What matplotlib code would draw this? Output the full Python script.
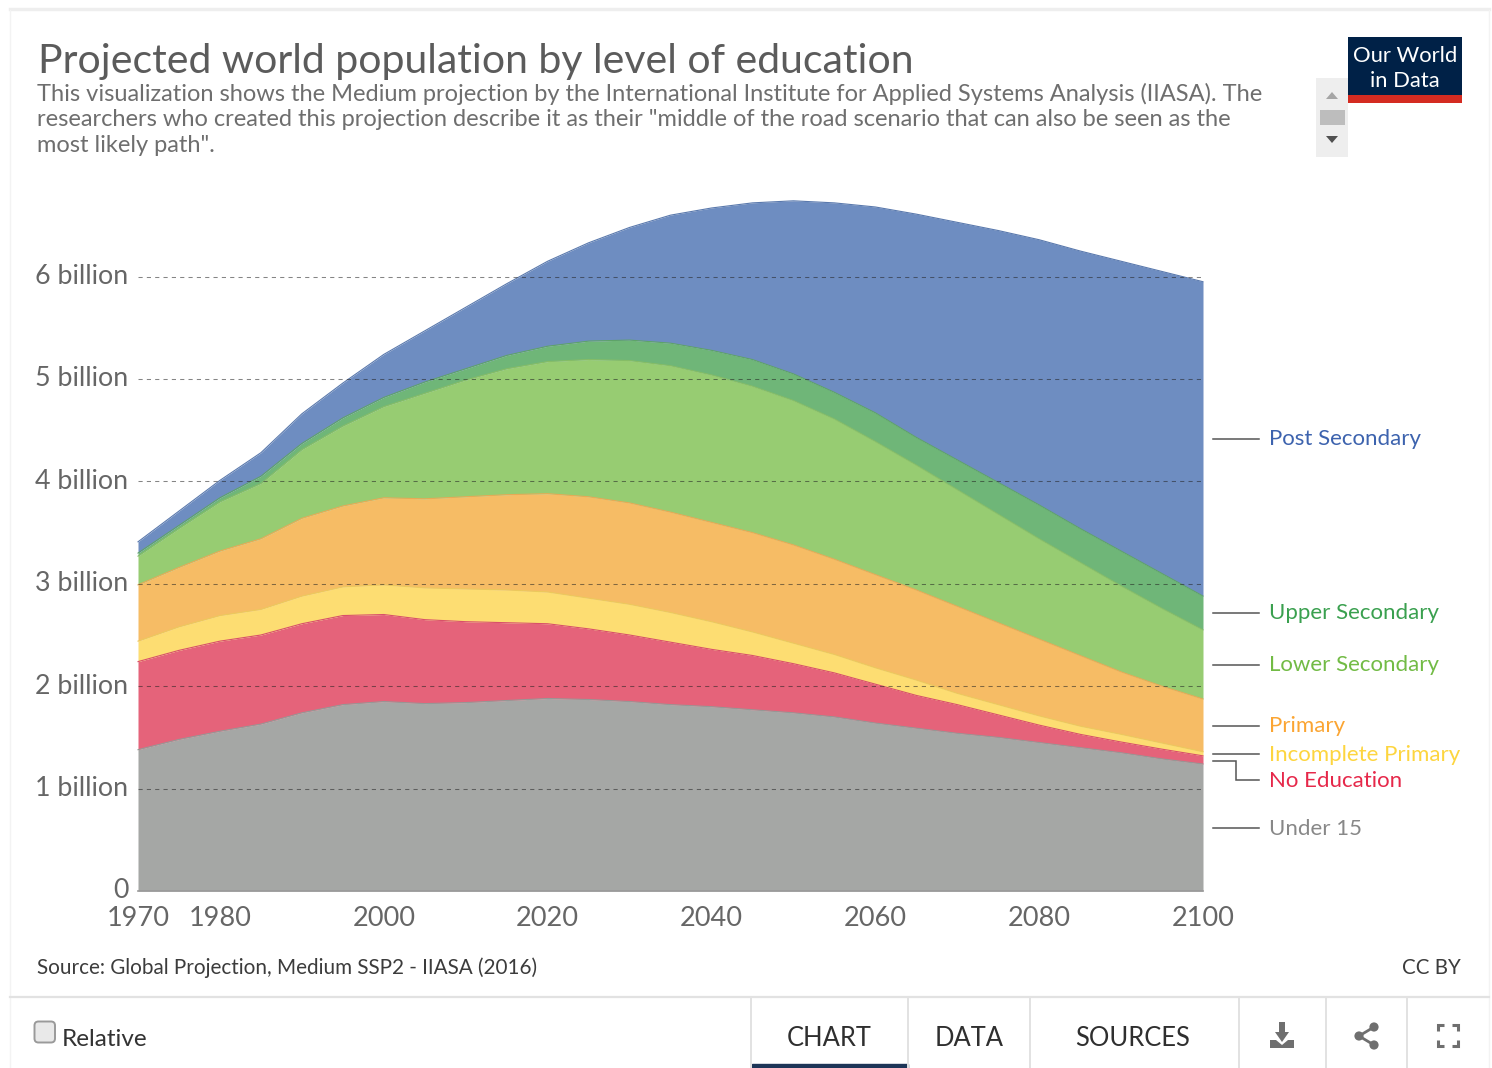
import matplotlib
matplotlib.use('Agg')
import matplotlib.pyplot as plt
from matplotlib.patches import Rectangle, Polygon, Circle, FancyBboxPatch

plt.rcParams['font.family'] = ['Lato', 'Open Sans', 'DejaVu Sans']

W, H = 1492, 1068

# ── Data: top edge of each stacked band, in billions ─────────────────────
YEARS = list(range(1970, 2101, 5))
UNDER_15 = [1.38, 1.48, 1.56, 1.63, 1.74, 1.82, 1.85, 1.83, 1.84, 1.86, 1.88, 1.87, 1.85,
            1.82, 1.80, 1.77, 1.74, 1.70, 1.64, 1.59, 1.54, 1.50, 1.45, 1.40, 1.35, 1.29, 1.24]
NO_EDUCATION = [2.24, 2.35, 2.44, 2.50, 2.61, 2.69, 2.70, 2.65, 2.63, 2.62, 2.61, 2.56, 2.50,
                2.43, 2.36, 2.30, 2.22, 2.13, 2.02, 1.91, 1.82, 1.72, 1.62, 1.53, 1.455, 1.385, 1.32]
INCOMPLETE_PRIMARY = [2.44, 2.58, 2.69, 2.75, 2.88, 2.97, 2.99, 2.96, 2.95, 2.94, 2.92, 2.86, 2.80,
                      2.72, 2.63, 2.53, 2.42, 2.31, 2.18, 2.06, 1.93, 1.82, 1.71, 1.61, 1.53, 1.445, 1.36]
PRIMARY = [2.99, 3.16, 3.32, 3.44, 3.64, 3.76, 3.84, 3.83, 3.85, 3.87, 3.88, 3.85, 3.79,
           3.70, 3.60, 3.50, 3.38, 3.24, 3.09, 2.94, 2.78, 2.62, 2.46, 2.30, 2.14, 2.00, 1.875]
LOWER_SECONDARY = [3.27, 3.54, 3.80, 3.98, 4.31, 4.54, 4.73, 4.86, 4.99, 5.10, 5.17, 5.19, 5.18,
                   5.13, 5.04, 4.93, 4.79, 4.61, 4.39, 4.16, 3.92, 3.68, 3.44, 3.21, 2.98, 2.76, 2.55]
UPPER_SECONDARY = [3.30, 3.57, 3.84, 4.05, 4.37, 4.62, 4.82, 4.97, 5.10, 5.23, 5.32, 5.37, 5.38,
                   5.35, 5.28, 5.19, 5.05, 4.87, 4.67, 4.43, 4.21, 3.99, 3.77, 3.54, 3.32, 3.10, 2.88]
POST_SECONDARY = [3.41, 3.71, 4.01, 4.28, 4.66, 4.96, 5.24, 5.47, 5.70, 5.93, 6.15, 6.33, 6.48,
                  6.60, 6.67, 6.72, 6.74, 6.72, 6.68, 6.61, 6.53, 6.45, 6.36, 6.25, 6.15, 6.05, 5.95]

BAND_TOPS = [UNDER_15, NO_EDUCATION, INCOMPLETE_PRIMARY, PRIMARY,
             LOWER_SECONDARY, UPPER_SECONDARY, POST_SECONDARY]
BAND_FILLS = ['#a5a7a5', '#e5637a', '#fddd72', '#f6bc65', '#97cc72', '#6fb678', '#6e8dc1']
BAND_EDGES = ['#969896', '#d8506a', '#ecc95c', '#e8aa55', '#86bd66', '#5ea368', '#5a79ad']

X_TICKS = [1970, 1980, 2000, 2020, 2040, 2060, 2080, 2100]
Y_TICKS = [0, 1, 2, 3, 4, 5, 6]
Y_TICK_LABELS = ['0', '1 billion', '2 billion', '3 billion', '4 billion', '5 billion', '6 billion']

# label, text y, connector y, colour
SERIES_LABELS = [
    ('Post Secondary', 439, 439, '#3d63ae'),
    ('Upper Secondary', 613, 613, '#3aa04f'),
    ('Lower Secondary', 665, 665, '#72bb45'),
    ('Primary', 726, 725.5, '#fba533'),
    ('Incomplete Primary', 755, 754, '#fdd53f'),
    ('No Education', 781, 780, '#e6284a'),
    ('Under 15', 829, 828, '#888888'),
]

fig = plt.figure(figsize=(W / 100, H / 100), dpi=100, facecolor='white')

# Pixel-space layer for the card, header and footer
bg = fig.add_axes([0, 0, 1, 1], zorder=0)
bg.set_xlim(0, W); bg.set_ylim(H, 0); bg.axis('off')

GREY = '#e2e2e2'
bg.plot([10, 1489], [9, 9], color='#eeeeee', lw=2.5)
bg.plot([10, 10], [10, H], color='#f3f3f3', lw=1)
bg.plot([1489, 1489], [10, H], color='#f3f3f3', lw=1)
bg.plot([10, 1489], [997, 997], color=GREY, lw=1.6)
for x in [751, 908, 1030, 1239, 1326, 1407]:
    bg.plot([x, x], [998, H], color=GREY, lw=1.4)
bg.add_patch(Rectangle((752, 1064), 156, 4, color='#1d3557'))

TITLE_GREY = '#5b5b5b'
bg.text(38, 61, 'Projected world population by level of education',
        fontsize=29.55, color=TITLE_GREY, va='center', ha='left')
for y, line in [(94, 'This visualization shows the Medium projection by the International Institute for Applied Systems Analysis (IIASA). The'),
                (120, 'researchers who created this projection describe it as their "middle of the road scenario that can also be seen as the'),
                (146, 'most likely path".')]:
    bg.text(37, y, line, fontsize=17, color='#6e6e6e', va='center', ha='left')

# Scroll widget beside the subtitle
bg.add_patch(Rectangle((1316, 78), 32, 79, color='#eeeeee', lw=0))
bg.add_patch(Rectangle((1320, 110), 25, 15, color='#bdbdbd', lw=0))
bg.add_patch(Polygon([(1326, 99), (1338, 99), (1332, 92)], color='#a5a5a5', lw=0))
bg.add_patch(Polygon([(1326, 136), (1338, 136), (1332, 143)], color='#505050', lw=0))

# Logo
bg.add_patch(Rectangle((1348, 37), 114, 58, color='#002147', lw=0))
bg.add_patch(Rectangle((1348, 95), 114, 8, color='#d42b21', lw=0))
bg.text(1405, 56, 'Our World', fontsize=15.8, color='white', ha='center', va='center')
bg.text(1405, 81, 'in Data', fontsize=15.8, color='white', ha='center', va='center')

# Footer text
bg.text(37, 968, 'Source: Global Projection, Medium SSP2 - IIASA (2016)',
        fontsize=14.85, color='#3c3c3c', ha='left', va='center')
bg.text(1461, 968, 'CC BY', fontsize=14.8, color='#3c3c3c', ha='right', va='center')
bg.add_patch(FancyBboxPatch((34.5, 1021.5), 20.5, 21, boxstyle='round,pad=0,rounding_size=4',
                            fc='#e9e9e9', ec='#9a9a9a', lw=1.4))
bg.text(62, 1039, 'Relative', fontsize=17.5, color='#333333', ha='left', va='center')
for cx, label in [(829, 'CHART'), (969, 'DATA'), (1133, 'SOURCES')]:
    bg.text(cx, 1038, label, fontsize=18.4, color='#2f2f2f', ha='center', va='center')

# Download icon
ICON = '#6f6f6f'
bg.add_patch(Polygon([(1279, 1022), (1285, 1022), (1285, 1032), (1289, 1032), (1282, 1042),
                      (1275, 1032), (1279, 1032)], color=ICON, lw=0))
bg.add_patch(Polygon([(1270, 1040), (1276, 1040), (1282, 1045), (1288, 1040), (1294, 1040),
                      (1294, 1048), (1270, 1048)], color=ICON, lw=0))
# Share icon
for cx, cy in [(1374, 1027), (1359, 1036), (1374, 1045)]:
    bg.add_patch(Circle((cx, cy), 4.6, color=ICON, lw=0))
bg.plot([1374, 1359, 1374], [1027, 1036, 1045], color=ICON, lw=2)
# Fullscreen icon
for xs, ys in [([1438, 1438, 1444], [1031, 1025, 1025]), ([1452, 1458, 1458], [1025, 1025, 1031]),
               ([1438, 1438, 1444], [1040, 1046, 1046]), ([1452, 1458, 1458], [1046, 1046, 1040])]:
    bg.plot(xs, ys, color=ICON, lw=2.2, solid_capstyle='butt', solid_joinstyle='miter')

# ── Stacked area chart ───────────────────────────────────────────────────
PX_LEFT, PX_RIGHT, PX_ZERO, PX_TOP = 138, 1203, 891, 191
ax = fig.add_axes([PX_LEFT / W, (H - PX_ZERO) / H, (PX_RIGHT - PX_LEFT) / W, (PX_ZERO - PX_TOP) / H],
                  zorder=1)
ax.patch.set_alpha(0)
ax.set_xlim(1970, 2100)
ax.set_ylim(0, (PX_ZERO - PX_TOP) / 102.4)

lower = [0] * len(YEARS)
for top, fill, edge in zip(BAND_TOPS, BAND_FILLS, BAND_EDGES):
    ax.fill_between(YEARS, lower, top, color=fill, lw=0, zorder=1)
    ax.plot(YEARS, top, color=edge, lw=0.8, zorder=2, clip_on=False)
    lower = top

for t in Y_TICKS[1:]:
    ax.axhline(t, color='#222222', lw=0.75, dashes=(4, 4), alpha=0.55, zorder=3)
ax.plot([1970, 2100], [0, 0], color='#999999', lw=1.2, zorder=3, clip_on=False)

ax.set_xticks(X_TICKS)
ax.set_xticklabels([str(x) for x in X_TICKS])
ax.set_yticks(Y_TICKS)
ax.set_yticklabels(Y_TICK_LABELS)
ax.tick_params(axis='x', length=0, pad=11, labelsize=19.5, labelcolor='#666666')
ax.tick_params(axis='y', length=0, pad=7, labelsize=19.3, labelcolor='#666666')
for lab in ax.get_yticklabels():
    lab.set_verticalalignment('center')
for spine in ax.spines.values():
    spine.set_visible(False)

# ── Series labels with connector lines ───────────────────────────────────
LINE_GREY = '#555555'
for name, y, line_y, color in SERIES_LABELS:
    bg.text(1269, y, name, fontsize=16.0, color=color, ha='left', va='center', zorder=5)
    if name == 'No Education':
        bg.plot([1213, 1236, 1236, 1259], [761, 761, 780, 780], color=LINE_GREY, lw=1.1,
                solid_joinstyle='miter')
    else:
        bg.plot([1213, 1259], [line_y, line_y], color=LINE_GREY, lw=1.1)

fig.savefig('out.png', dpi=100)
plt.close(fig)
